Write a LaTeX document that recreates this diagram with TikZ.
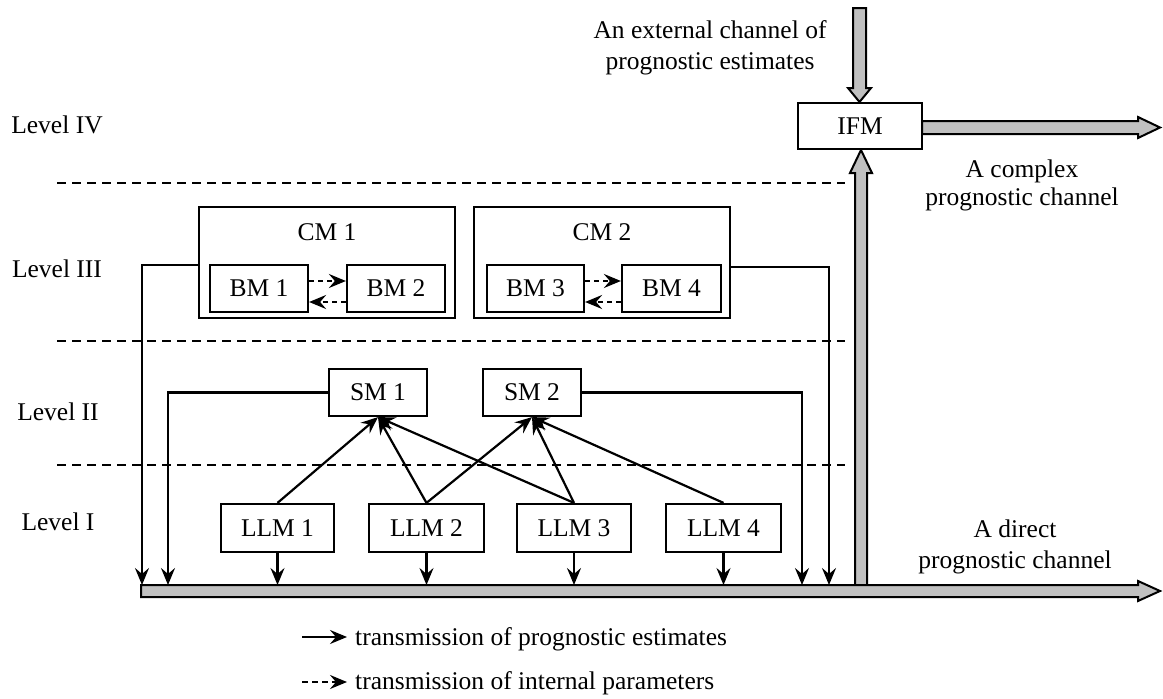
\documentclass[tikz,border=0pt]{standalone}
\usepackage{fontspec}
\setmainfont{Liberation Serif}
\usetikzlibrary{arrows.meta,calc}
\definecolor{chgray}{RGB}{192,192,192}
\begin{document}
\begin{tikzpicture}[x=1pt,y=-1pt,
  font=\rmfamily\fontsize{25.5}{30}\selectfont,
  box/.style={draw, line width=2.2pt, inner sep=0pt, fill=white},
  txt/.style={anchor=base, inner sep=0pt},
  arr/.style={line width=2.2pt, -{Stealth[length=17pt,width=14pt,inset=6pt]}},
  darr/.style={arr, dash pattern=on 5pt off 4pt},
  sepline/.style={line width=2.2pt, dash pattern=on 9pt off 6pt},
  wide/.style={draw, line width=2pt, fill=chgray, line join=miter}]
\useasboundingbox (0,0) rectangle (1163,699);

% level separators
\draw[sepline] (57,183) -- (845,183);
\draw[sepline] (57,341) -- (845,341);
\draw[sepline] (57,465) -- (845,465);

% level labels
\node[txt] (L4) at (57,133) {Level IV};
\node[txt] (L3) at (57,277) {Level III};
\node[txt] (L2) at (58,420) {Level II};
\node[txt] (L1) at (58,530) {Level I};

% wide channels
\draw[wide] (855,585) -- (855,173) -- (850,173) -- (861,150) -- (872,173) -- (867,173) -- (867,585);
\draw[wide] (141,585) -- (1138,585) -- (1138,581) -- (1160,591) -- (1138,601) -- (1138,597) -- (141,597) -- cycle;
\draw[wide] (853,8) -- (866,8) -- (866,88) -- (871,88) -- (859.5,102) -- (848,88) -- (853,88) -- cycle;
\draw[wide] (922,121) -- (1138,121) -- (1138,117) -- (1160,127.5) -- (1138,138) -- (1138,134) -- (922,134) -- cycle;

% IFM
\node[box, minimum width=124pt, minimum height=46pt] (IFM) at (860,126) {IFM};

% CM boxes
\node[box, minimum width=256pt, minimum height=111pt] (CM1) at (327,262.5) {};
\node[box, minimum width=256pt, minimum height=111pt] (CM2) at (602,262.5) {};
\node[txt] (CM1l) at (327,240) {CM 1};
\node[txt] (CM2l) at (602,240) {CM 2};
\node[box, minimum width=98pt, minimum height=47pt] (BM1) at (259,288.5) {BM 1};
\node[box, minimum width=98pt, minimum height=47pt] (BM2) at (396,288.5) {BM 2};
\node[box, minimum width=97pt, minimum height=47pt] (BM3) at (535.5,288.5) {BM 3};
\node[box, minimum width=99pt, minimum height=47pt] (BM4) at (671.5,288.5) {BM 4};

\draw[darr] ([yshift=7.5pt]BM1.east) -- ([yshift=7.5pt]BM2.west);
\draw[darr] ([yshift=-13.5pt]BM2.west) -- ([yshift=-13.5pt]BM1.east);
\draw[darr] ([yshift=7.5pt]BM3.east) -- ([yshift=7.5pt]BM4.west);
\draw[darr] ([yshift=-13.5pt]BM4.west) -- ([yshift=-13.5pt]BM3.east);

% SM boxes
\node[box, minimum width=98pt, minimum height=47pt] (SM1) at (378,392.5) {SM 1};
\node[box, minimum width=98pt, minimum height=47pt] (SM2) at (532,392.5) {SM 2};

% LLM boxes
\node[box, minimum width=113pt, minimum height=48pt] (LLM1) at (277.5,528) {LLM 1};
\node[box, minimum width=115pt, minimum height=48pt] (LLM2) at (426.5,528) {LLM 2};
\node[box, minimum width=114pt, minimum height=48pt] (LLM3) at (574,528) {LLM 3};
\node[box, minimum width=115pt, minimum height=48pt] (LLM4) at (723.5,528) {LLM 4};

% LLM -> SM
\draw[arr] (LLM1.north) -- (SM1.south);
\draw[arr] (LLM2.north) -- (SM1.south);
\draw[arr] (LLM2.north) -- (SM2.south);
\draw[arr] (LLM3.north) -- (SM1.south);
\draw[arr] (LLM3.north) -- (SM2.south);
\draw[arr] (LLM4.north) -- (SM2.south);

% connections to direct channel
\coordinate (chtop) at (0,585);
\coordinate (b1) at (142,585);
\coordinate (b2) at (168,585);
\coordinate (b3) at (802,585);
\coordinate (b4) at (829,585);
\draw[arr] ([yshift=-2.5pt]CM1.west) -| (b1);
\draw[arr] (SM1.west) -| (b2);
\draw[arr] (SM2.east) -| (b3);
\draw[arr] ([yshift=-4.5pt]CM2.east) -| (b4);
\foreach \n in {1,...,4} \draw[arr] (LLM\n.south) -- (LLM\n.south |- chtop);

% channel labels
\node[txt] (ext1) at (710,38) {An external channel of};
\node[txt] (ext2) at (710,69) {prognostic estimates};
\node[txt] (cpx1) at (1022,177) {A complex};
\node[txt] (cpx2) at (1022,205) {prognostic channel};
\node[txt] (dir1) at (1015,537) {A direct};
\node[txt] (dir2) at (1015,568) {prognostic channel};

% legend
\coordinate (lg1a) at (302,637);
\coordinate (lg1b) at (347,637);
\coordinate (lg2a) at (302,682);
\coordinate (lg2b) at (347,682);
\draw[arr] (lg1a) -- (lg1b);
\draw[arr, dash pattern=on 6pt off 4pt] (lg2a) -- (lg2b);
\node[txt, anchor=base west] (lgt1) at (355,645) {transmission of prognostic estimates};
\node[txt, anchor=base west] (lgt2) at (355,689) {transmission of internal parameters};
\end{tikzpicture}
\end{document}
